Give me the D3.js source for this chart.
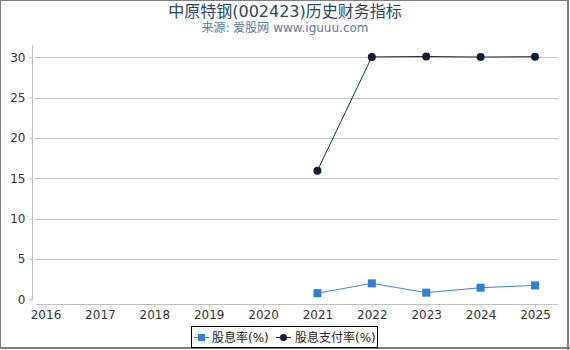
<!DOCTYPE html>
<html>
<head>
<meta charset="utf-8">
<script src="https://cdn.jsdelivr.net/npm/d3@7"></script>
<style>
  body { margin: 0; background: #fff; }
  svg { font-family: "DejaVu Sans", "Noto Sans CJK SC", sans-serif; }
</style>
</head>
<body>
<div id="chart"></div>
<script>
// data
const years = ["2016", "2017", "2018", "2019", "2020", "2021", "2022", "2023", "2024", "2025"];
const yieldYears = ["2021", "2022", "2023", "2024", "2025"];
const yieldVals = [0.78, 2.0, 0.85, 1.46, 1.75];      // 股息率(%)
const payoutVals = [15.96, 30.05, 30.1, 30.03, 30.08]; // 股息支付率(%)
const yTicks = [0, 5, 10, 15, 20, 25, 30];

const W = 570, H = 350;
const svg = d3.select("#chart").append("svg").attr("width", W).attr("height", H);

// outer frame
svg.append("rect").attr("x", 0.5).attr("y", 0.5).attr("width", 567).attr("height", 347.5)
  .attr("fill", "#fff").attr("stroke", "#7f7f7f").attr("stroke-width", 1);
svg.append("line").attr("x1", 568).attr("x2", 568).attr("y1", 0).attr("y2", 350).attr("stroke", "#7f7f7f").attr("stroke-width", 2);
svg.append("line").attr("x1", 0).attr("x2", 570).attr("y1", 348).attr("y2", 348).attr("stroke", "#7f7f7f").attr("stroke-width", 2);

svg.append("text").attr("x", 285).attr("y", 17).attr("text-anchor", "middle")
  .attr("font-size", 16).attr("fill", "#2b4764").text("中原特钢(002423)历史财务指标");
svg.append("text").attr("x", 285).attr("y", 32).attr("text-anchor", "middle")
  .attr("font-size", 12).attr("fill", "#5a78a0").text("来源: 爱股网 www.iguuu.com");

const x = d3.scalePoint().domain(years).range([45.5, 535]);
const y = d3.scaleLinear().domain([0, 30]).range([299.5, 57.3]);

// grid
svg.append("g").selectAll("line").data(yTicks.filter(d => d > 0)).join("line")
  .attr("x1", 35).attr("x2", 558)
  .attr("y1", d => Math.round(y(d)) + 0.5).attr("y2", d => Math.round(y(d)) + 0.5)
  .attr("stroke", "#c0c0c0").attr("stroke-width", 1);

// y axis
const yAxis = svg.append("g").attr("transform", "translate(32.5,0)")
  .call(d3.axisLeft(y).tickValues(yTicks).tickSize(3).tickPadding(4));
yAxis.select(".domain").attr("stroke", "#c0c0c0").attr("d", "M-3," + (y(0)) + "H0V45");
yAxis.selectAll(".tick line").attr("stroke", "#c0c0c0");
yAxis.selectAll("text").attr("font-size", 12).attr("fill", "#333").attr("font-family", "DejaVu Sans");

// x axis
const xAxis = svg.append("g").attr("transform", "translate(0,304.5)")
  .call(d3.axisBottom(x).tickSize(3).tickPadding(3));
xAxis.select(".domain").attr("stroke", "#c0c0c0").attr("d", "M36,0H558");
xAxis.selectAll(".tick line").attr("stroke", "#c0c0c0");
xAxis.selectAll("text").attr("font-size", 12).attr("fill", "#333").attr("font-family", "DejaVu Sans");

// series
const payout = yieldYears.map((yr, i) => [yr, payoutVals[i]]);
const yld = yieldYears.map((yr, i) => [yr, yieldVals[i]]);
const line = d3.line().x(d => x(d[0])).y(d => y(d[1]));

svg.append("path").datum(payout).attr("d", line).attr("fill", "none")
  .attr("stroke", "#1c2b40").attr("stroke-width", 1);
svg.append("g").selectAll("circle").data(payout).join("circle")
  .attr("cx", d => x(d[0])).attr("cy", d => y(d[1])).attr("r", 4).attr("fill", "#0f1f36");

svg.append("path").datum(yld).attr("d", line).attr("fill", "none")
  .attr("stroke", "#3a85d8").attr("stroke-width", 1);
svg.append("g").selectAll("rect").data(yld).join("rect")
  .attr("x", d => x(d[0]) - 4).attr("y", d => y(d[1]) - 4).attr("width", 8).attr("height", 8)
  .attr("fill", "#2f7fd9");

// legend
const lg = svg.append("g");
lg.append("rect").attr("x", 191.5).attr("y", 326.5).attr("width", 186).attr("height", 21)
  .attr("fill", "#fff").attr("stroke", "#000").attr("stroke-width", 1);
lg.append("line").attr("x1", 194).attr("x2", 209).attr("y1", 337.5).attr("y2", 337.5).attr("stroke", "#3a85d8");
lg.append("rect").attr("x", 198).attr("y", 334).attr("width", 7).attr("height", 7).attr("fill", "#2f7fd9");
lg.append("text").attr("x", 212).attr("y", 342).attr("font-size", 12).attr("fill", "#222").text("股息率(%)");
lg.append("line").attr("x1", 276).attr("x2", 291).attr("y1", 337.5).attr("y2", 337.5).attr("stroke", "#1c2b40");
lg.append("circle").attr("cx", 283.5).attr("cy", 337.5).attr("r", 3.5).attr("fill", "#0f1f36");
lg.append("text").attr("x", 295).attr("y", 342).attr("font-size", 12).attr("fill", "#222").text("股息支付率(%)");
</script>
</body>
</html>
